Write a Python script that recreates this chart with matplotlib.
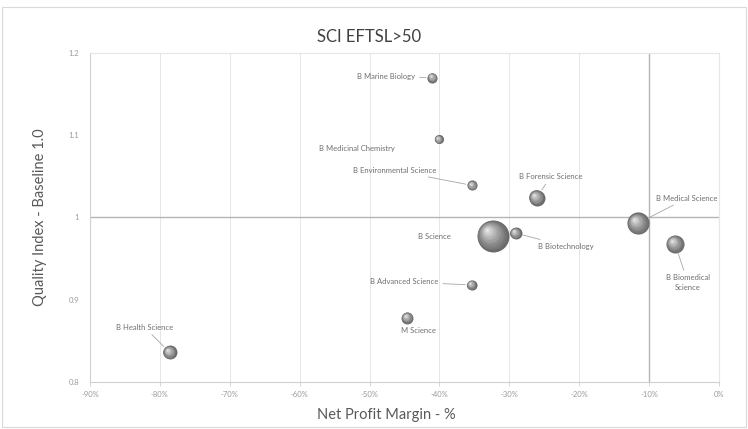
import matplotlib.pyplot as plt
import matplotlib.transforms as mtransforms
from matplotlib.colors import to_rgb
from matplotlib.patches import Rectangle
from matplotlib.ticker import FuncFormatter

plt.rcParams["font.family"] = ["Lato", "DejaVu Sans"]
plt.rcParams["axes.unicode_minus"] = False

# course data: net profit margin (%), quality index, EFTSL (bubble size)
COURSES = [
    "B Marine Biology",
    "B Medicinal Chemistry",
    "B Environmental Science",
    "B Forensic Science",
    "B Medical Science",
    "B Science",
    "B Biotechnology",
    "B Biomedical\nScience",
    "B Advanced Science",
    "M Science",
    "B Health Science",
]
MARGIN = [-41.0, -40.1, -35.3, -26.1, -11.6, -32.4, -29.1, -6.3, -35.4, -44.6, -78.6]
QUALITY = [1.170, 1.095, 1.039, 1.024, 0.993, 0.978, 0.981, 0.968, 0.918, 0.878, 0.836]
EFTSL = [100, 80, 100, 250, 480, 1000, 140, 320, 100, 140, 190]

X_TICKS = [-90, -80, -70, -60, -50, -40, -30, -20, -10, 0]
Y_TICKS = [0.8, 0.9, 1.0, 1.1, 1.2]

# label offsets in pixels from the bubble centre, and whether a leader line is drawn
LABEL_OFFSETS = [
    (-46, 1, True),
    (-82, -9, False),
    (-78, 15, True),
    (14, 21, True),
    (49, 25, True),
    (-58, -1, False),
    (50, -13, True),
    (13, -39, True),
    (-67, 3, True),
    (11, -13, False),
    (-25, 25, True),
]

GREY_TEXT = "#595959"
LABEL_GREY = "#6f6f6f"
TICK_GREY = "#9a9a9a"


def blend(c1, c2, t):
    a, b = to_rgb(c1), to_rgb(c2)
    return tuple(a[i] + (b[i] - a[i]) * t for i in range(3))


def draw_sphere(ax, fig, x, y, size):
    # fake shading: stacked discs getting lighter and shifting up-left
    layers = 12
    radius_pt = (size ** 0.5) / 2
    for i in range(layers):
        t = i / layers
        s = size * (1 - t) ** 2
        shift = radius_pt * 0.4 * t / 72.0
        tr = ax.transData + mtransforms.ScaledTranslation(-shift, shift, fig.dpi_scale_trans)
        ax.scatter([x], [y], s=s, color=blend("#6a6a6a", "#f2f2f2", t ** 1.1),
                   linewidths=0, transform=tr, zorder=3 + i * 0.01)


fig = plt.figure(figsize=(7.48, 4.29), dpi=100)
fig.patches.append(Rectangle((2 / 748, 2 / 429), 744 / 748, 420 / 429,
                             transform=fig.transFigure, fill=False,
                             edgecolor="#d9d9d9", linewidth=0.8))

ax = fig.add_axes([90 / 748, 1 - 382 / 429, 629 / 748, 329 / 429])
ax.set_xlim(-90, 0)
ax.set_ylim(0.8, 1.2)

ax.set_xticks(X_TICKS)
ax.set_yticks(Y_TICKS)
ax.xaxis.set_major_formatter(FuncFormatter(lambda v, _: f"{v:.0f}%"))
ax.yaxis.set_major_formatter(FuncFormatter(lambda v, _: f"{v:g}"))
ax.tick_params(axis="both", labelsize=5.5, labelcolor=TICK_GREY, length=3,
               color="#d0d0d0", width=0.6)
ax.tick_params(axis="y", length=0, pad=8)

ax.grid(True, axis="x", color="#e6e6e6", linewidth=0.7)
ax.set_axisbelow(True)
for name, spine in ax.spines.items():
    spine.set_color("#d0d0d0" if name in ("left", "bottom") else "#e6e6e6")
    spine.set_linewidth(0.8)

# reference lines at baseline quality and -10% margin
ax.axhline(1.0, color="#b5b5b5", linewidth=1.0, zorder=2)
ax.axvline(-10, color="#b5b5b5", linewidth=1.0, zorder=2)

sizes = [v * 0.53 for v in EFTSL]
for x, y, s in zip(MARGIN, QUALITY, sizes):
    draw_sphere(ax, fig, x, y, s)

for name, x, y, s, (dx, dy, leader) in zip(COURSES, MARGIN, QUALITY, sizes, LABEL_OFFSETS):
    arrow = None
    if leader:
        arrow = dict(arrowstyle="-", color="#a6a6a6", linewidth=0.6,
                     shrinkA=1, shrinkB=(s ** 0.5) / 2 + 1)
    ax.annotate(name, xy=(x, y), xytext=(dx, dy), textcoords="offset pixels",
                ha="center", va="center", fontsize=5.5, color=LABEL_GREY,
                linespacing=1.5, arrowprops=arrow, zorder=5)

fig.text(369 / 748, 1 - 37 / 429, "SCI EFTSL>50", ha="center", va="center",
         fontsize=12, color="#404040")
fig.text(386 / 748, 1 - 415 / 429, "Net Profit Margin - %", ha="center",
         va="center", fontsize=10.5, color=GREY_TEXT)
fig.text(40 / 748, 1 - 217 / 429, "Quality Index - Baseline 1.0", ha="center",
         va="center", rotation=90, fontsize=10.5, color=GREY_TEXT)

fig.savefig("out.png", dpi=100)
